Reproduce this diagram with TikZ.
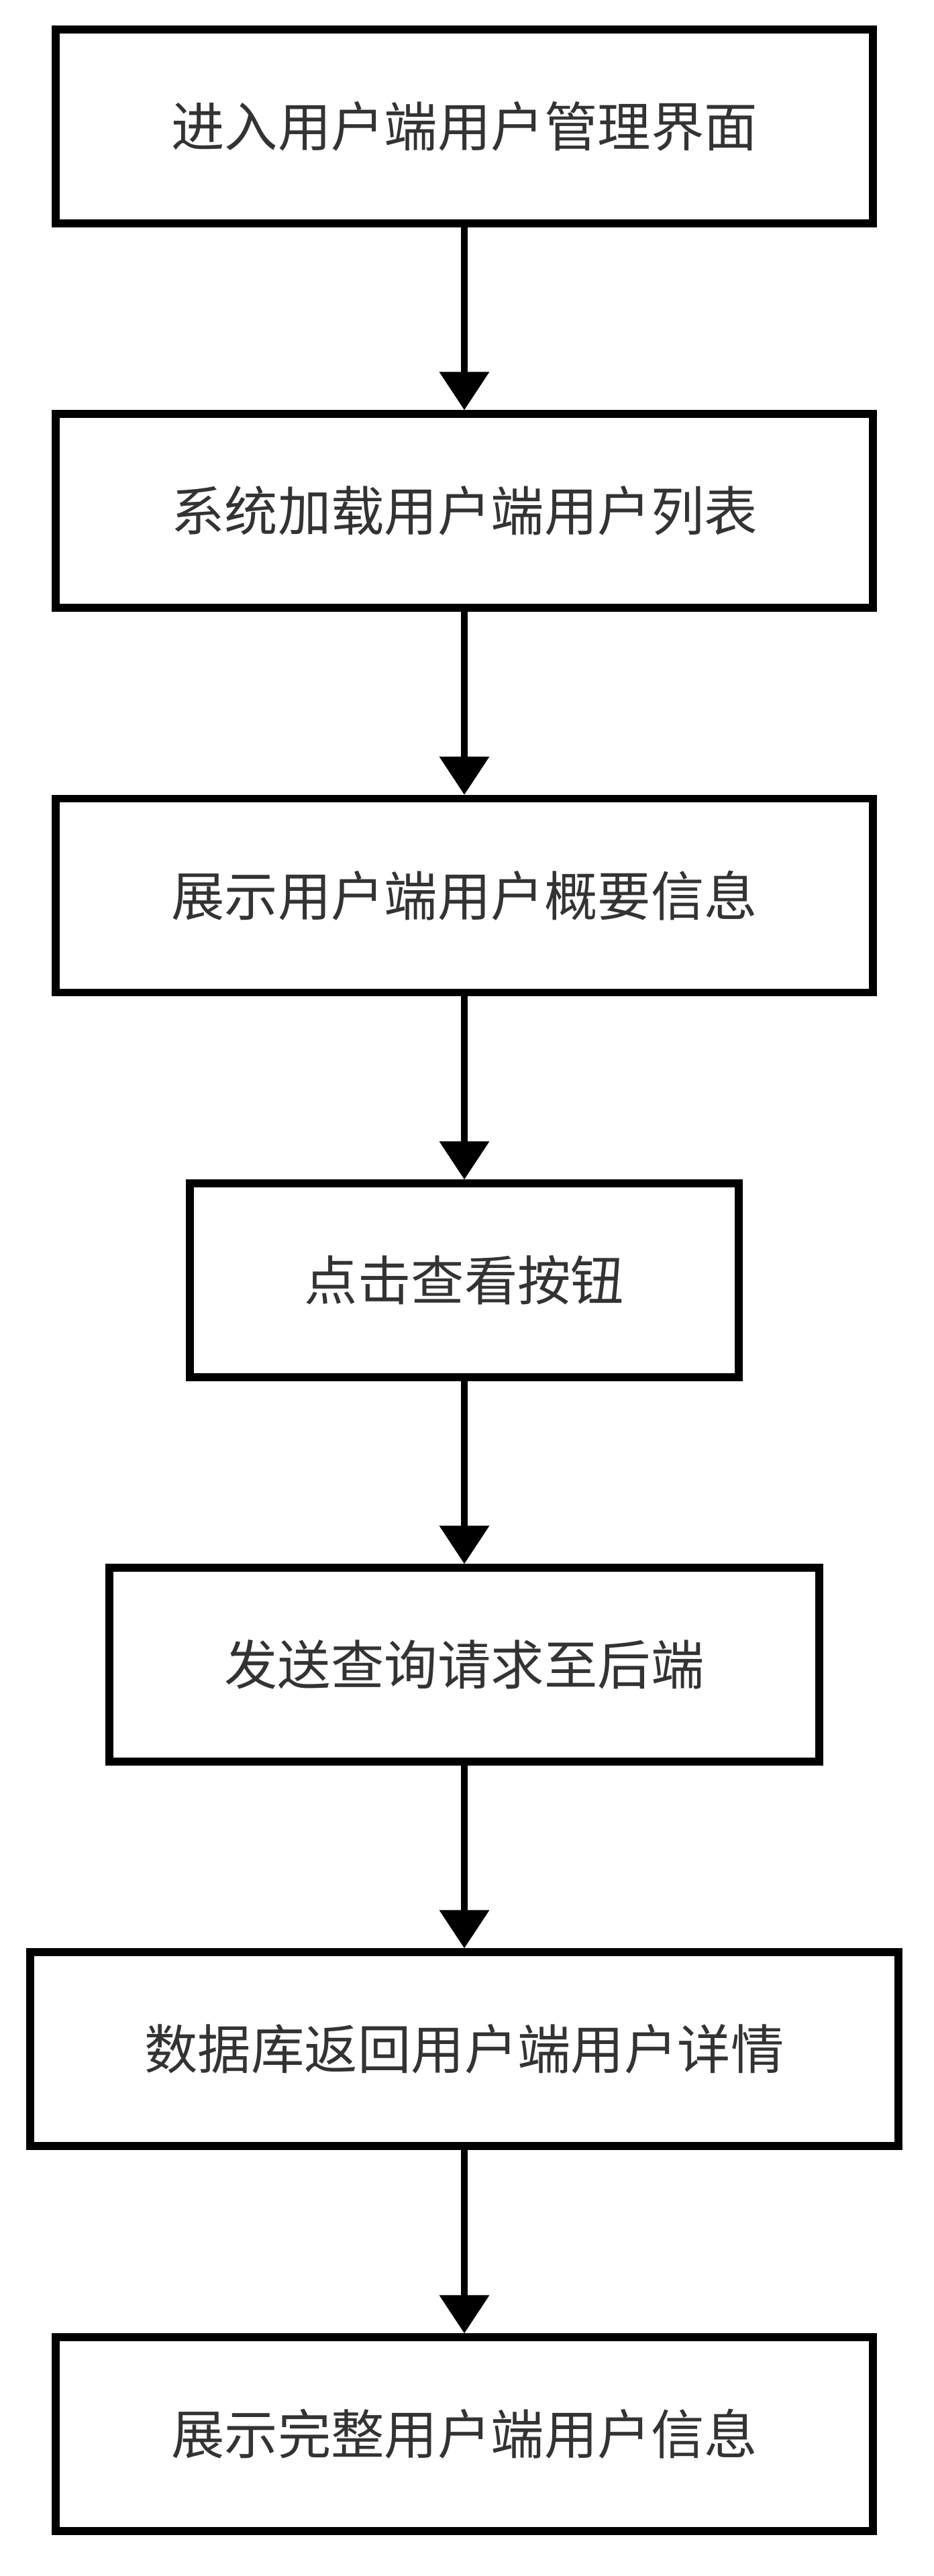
\documentclass[tikz,border=0pt]{standalone}
\usepackage{fontspec}
\newfontfamily\cjk{Noto Sans CJK SC}
\usetikzlibrary{arrows.meta,positioning}
\definecolor{ink}{RGB}{51,51,51}

\begin{document}
\begin{tikzpicture}[
  every node/.style={font=\cjk\fontsize{22.6pt}{27pt}\selectfont,text=ink},
  box/.style={draw=black,line width=3.2pt,minimum height=2.89cm,inner sep=0pt,align=center},
  fl/.style={-{Triangle[length=5.7mm,width=7.2mm]},line width=3pt,draw=black}]
  \useasboundingbox (0,0) rectangle (13.92,-38.4);
  % steps, top to bottom
  \node[box,minimum width=12.18cm] (enter)  at (6.92,-1.885)  {进入用户端用户管理界面};
  \node[box,minimum width=12.18cm] (load)   at (6.92,-7.615)  {系统加载用户端用户列表};
  \node[box,minimum width=12.18cm] (brief)  at (6.92,-13.35)  {展示用户端用户概要信息};
  \node[box,minimum width=8.18cm]  (click)  at (6.92,-19.085) {点击查看按钮};
  \node[box,minimum width=10.58cm] (query)  at (6.92,-24.815) {发送查询请求至后端};
  \node[box,minimum width=12.94cm] (detail) at (6.92,-30.545) {数据库返回用户端用户详情};
  \node[box,minimum width=12.18cm] (full)   at (6.92,-36.285) {展示完整用户端用户信息};
  % flow
  \draw[fl] (enter) -- (load);
  \draw[fl] (load) -- (brief);
  \draw[fl] (brief) -- (click);
  \draw[fl] (click) -- (query);
  \draw[fl] (query) -- (detail);
  \draw[fl] (detail) -- (full);
\end{tikzpicture}
\end{document}
